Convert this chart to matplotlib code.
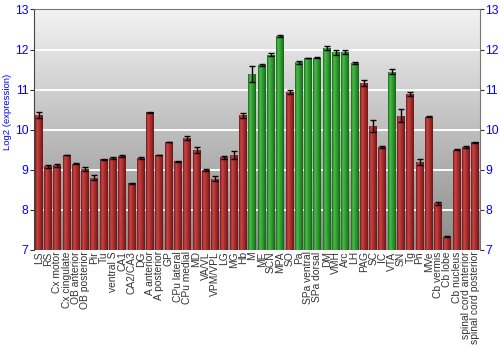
import numpy as np
import matplotlib
matplotlib.use("Agg")
import matplotlib.pyplot as plt
from matplotlib.colors import LinearSegmentedColormap

plt.rcParams['font.family'] = ['Liberation Sans', 'DejaVu Sans']

# region names, log2 expression, error, group (True = green / hypothalamic)
regions = ["LS", "RS", "Cx motor", "Cx cingulate", "OB anterior", "OB posterior",
           "Pir", "Tu", "ventral S", "CA1", "CA2/CA3", "DG", "A anterior",
           "A posterior", "GP", "CPu lateral", "CPu medial", "MD", "VA/VL",
           "VPM/VPL", "LG", "MG", "Hb", "M", "ME", "SCN", "MPA", "SO", "Pa",
           "SPa ventral", "SPa dorsal", "DM", "VMH", "Arc", "LH", "PAG", "SC",
           "IC", "VTA", "SN", "Tg", "Pn", "MVe", "Cb vermis", "Cb lobe",
           "Cb nucleus", "spinal cord anterior", "spinal cord posterior"]
values = [10.37, 9.09, 9.11, 9.37, 9.15, 9.02, 8.80, 9.26, 9.29, 9.35, 8.66, 9.30,
          10.43, 9.37, 9.69, 9.21, 9.80, 9.50, 9.00, 8.78, 9.31, 9.37, 10.36,
          11.39, 11.61, 11.87, 12.33, 10.93, 11.68, 11.79, 11.80, 12.03, 11.93,
          11.94, 11.67, 11.17, 10.08, 9.57, 11.45, 10.35, 10.90, 9.20, 10.32,
          8.16, 7.33, 9.50, 9.57, 9.68]
errors = [0.08, 0.04, 0.03, 0.01, 0.01, 0.04, 0.06, 0.02, 0.03, 0.03, 0.01, 0.03,
          0.01, 0.01, 0.01, 0.01, 0.05, 0.08, 0.03, 0.07, 0.04, 0.10, 0.06,
          0.20, 0.02, 0.04, 0.02, 0.05, 0.03, 0.01, 0.02, 0.05, 0.07, 0.06,
          0.03, 0.07, 0.15, 0.02, 0.06, 0.17, 0.05, 0.07, 0.01, 0.04, 0.01,
          0.01, 0.03, 0.02]
green = set(["M", "ME", "SCN", "MPA", "Pa", "SPa ventral", "SPa dorsal", "DM",
             "VMH", "Arc", "LH", "VTA"])
yticks = [7, 8, 9, 10, 11, 12, 13]

red_cmap = LinearSegmentedColormap.from_list(
    "redbar", ["#6e1818", "#c84646", "#b33232", "#962424", "#6a1616"])
green_cmap = LinearSegmentedColormap.from_list(
    "greenbar", ["#1a661a", "#4cbc4c", "#35a535", "#268a26", "#186018"])
bg_cmap = LinearSegmentedColormap.from_list("bg", ["#f3f3f3", "#8a8a8a"])

fig = plt.figure(figsize=(5, 3.5), dpi=100)
ax = fig.add_axes([0.068, 0.286, 0.892, 0.687])

x = np.arange(len(regions))
ax.set_xlim(-0.5, len(regions) - 0.5)
ax.set_ylim(yticks[0], yticks[-1])

# background gradient
grad = np.linspace(0, 1, 256).reshape(-1, 1)
ax.imshow(grad, cmap=bg_cmap, aspect="auto", zorder=0,
          extent=[-0.5, len(regions) - 0.5, yticks[0], yticks[-1]])
for t in yticks[1:-1]:
    ax.axhline(t, color="white", lw=1.4, zorder=1)

bars = ax.bar(x, np.array(values) - yticks[0], bottom=yticks[0], width=0.86,
              color="none", edgecolor="none", zorder=2)
hgrad = np.linspace(0, 1, 64).reshape(1, -1)
for b, name in zip(bars, regions):
    cmap = green_cmap if name in green else red_cmap
    x0 = b.get_x()
    im = ax.imshow(hgrad, cmap=cmap, aspect="auto", zorder=2,
                   extent=[x0, x0 + b.get_width(), yticks[0], yticks[0] + b.get_height()])
    im.set_clip_path(b)

ax.errorbar(x, values, yerr=errors, fmt="none", ecolor="black", elinewidth=1,
            capsize=2.2, capthick=1, zorder=3)

ax.set_yticks(yticks)
ax.tick_params(axis="y", which="both", left=True, right=True, labelleft=True,
               labelright=True, labelcolor="#0000ff", labelsize=8.7, length=3,
               color="#333333", pad=1)
ax.set_xticks(x)
ax.set_xticklabels(regions, rotation=90, fontsize=7.4, color="#333333")
ax.tick_params(axis="x", length=0, pad=1)
fig.text(0.016, 0.68, "Log2 (expression)", color="#0000ff", fontsize=6.8,
         rotation=90, ha="center", va="center")

for side in ["top", "right"]:
    ax.spines[side].set_color("#777777")
ax.spines["left"].set_color("#444444")
ax.spines["bottom"].set_visible(False)

fig.savefig("out.png", dpi=100)
